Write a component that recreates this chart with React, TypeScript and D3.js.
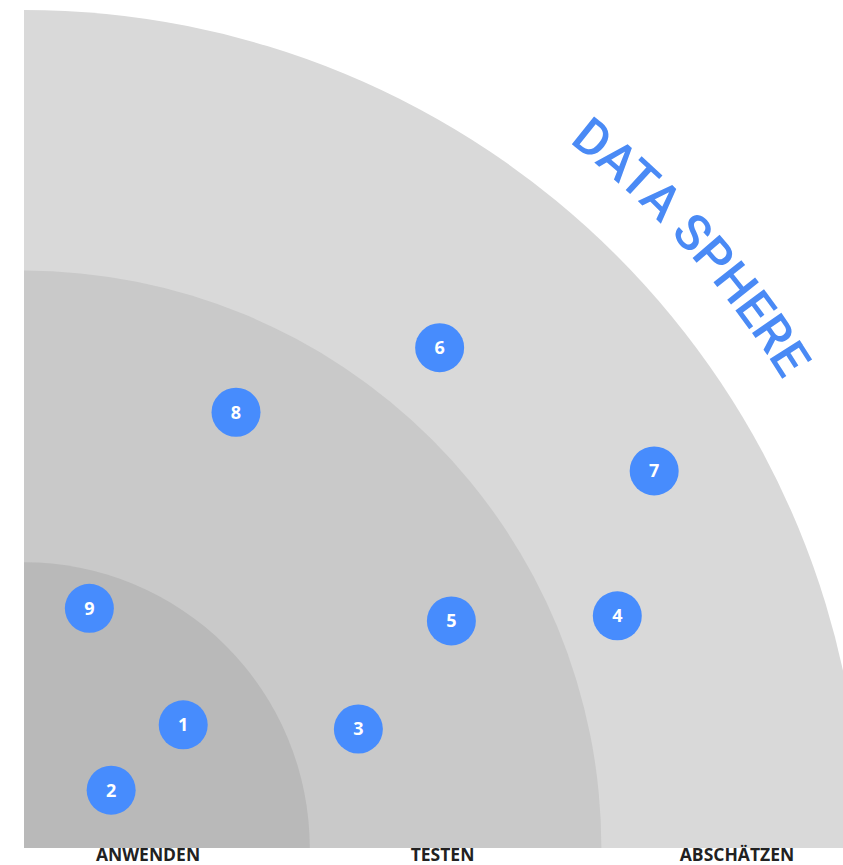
import { useEffect, useRef } from 'react';
import * as d3 from 'd3';

const stages = ['ANWENDEN', 'TESTEN', 'ABSCHÄTZEN'];
const ringLimits = [34.1, 68.9, 100];
const ringColors = ['#b9b9b9', '#c9c9c9', '#d9d9d9'];

const pointIds = [1, 2, 3, 4, 5, 6, 7, 8, 9];
const pointX = [19.0, 10.4, 39.9, 70.8, 51.0, 49.6, 75.2, 25.3, 7.8];
const pointY = [14.7, 6.9, 14.2, 27.7, 27.1, 59.7, 45.0, 52.0, 28.6];

const title = 'DATA SPHERE';

const App: React.FC = () => {
    const svgRef = useRef<SVGSVGElement>(null);

    useEffect(() => {
        if (!svgRef.current) return;
        const svg = d3.select(svgRef.current);
        svg.selectAll('*').remove();

        const width = 843;
        const cx = 24;
        const cy = 848;
        const R = 838;

        const r = d3.scaleLinear().domain([0, 100]).range([0, R]);
        const x = d3.scaleLinear().domain([0, 100]).range([cx, cx + R]);
        const y = d3.scaleLinear().domain([0, 100]).range([cy, cy - R]);

        svg.append('defs').append('clipPath').attr('id', 'clip')
            .append('rect').attr('width', width).attr('height', cy);

        const g = svg.append('g').attr('clip-path', 'url(#clip)');

        const arc = d3.arc<number>()
            .innerRadius(0)
            .outerRadius(d => r(d))
            .startAngle(0)
            .endAngle(Math.PI / 2);

        g.selectAll('path.ring')
            .data(ringLimits.map((v, i) => ({ v, i })).reverse())
            .join('path')
            .attr('class', 'ring')
            .attr('transform', `translate(${cx},${cy})`)
            .attr('d', d => arc(d.v))
            .attr('fill', d => ringColors[d.i]);

        // title along the outer arc
        const tr = r(106.4);
        const a0 = 28 * Math.PI / 180;
        const a1 = 68 * Math.PI / 180;
        const titlePath = d3.path();
        titlePath.arc(cx, cy, tr, a0 - Math.PI / 2, a1 - Math.PI / 2);
        svg.append('path').attr('id', 'titlePath').attr('d', titlePath.toString()).attr('fill', 'none');
        svg.append('text')
            .attr('font-family', 'Roboto, sans-serif')
            .attr('font-size', 50)
            .attr('font-weight', 500)
            .attr('fill', '#4a8af5')
            .append('textPath')
            .attr('href', '#titlePath')
            .attr('startOffset', '50%')
            .attr('text-anchor', 'middle')
            .text(title);

        const pts = pointIds.map((id, i) => ({ id, x: pointX[i], y: pointY[i] }));
        const node = svg.selectAll('g.pt')
            .data(pts)
            .join('g')
            .attr('class', 'pt')
            .attr('transform', d => `translate(${x(d.x)},${y(d.y)})`);
        node.append('circle').attr('r', 24.5).attr('fill', '#478cfd');
        node.append('text')
            .attr('text-anchor', 'middle')
            .attr('dy', '0.36em')
            .attr('font-family', '"Open Sans", sans-serif')
            .attr('font-weight', 700)
            .attr('font-size', 18)
            .attr('fill', '#ffffff')
            .text(d => d.id);

        const lx = d3.scalePoint().domain(stages).range([148, 737]);
        svg.selectAll('text.stage')
            .data(stages)
            .join('text')
            .attr('class', 'stage')
            .attr('x', d => lx(d)!)
            .attr('y', 861)
            .attr('text-anchor', 'middle')
            .attr('font-family', '"Open Sans", sans-serif')
            .attr('font-weight', 700)
            .attr('font-size', 17.5)
            .attr('fill', '#222222')
            .text(d => d);
    }, []);

    return (
        <svg ref={svgRef} width={843} height={865}
            style={{ position: 'absolute', left: 0, top: 0, background: '#ffffff' }} />
    );
};

export default App;
